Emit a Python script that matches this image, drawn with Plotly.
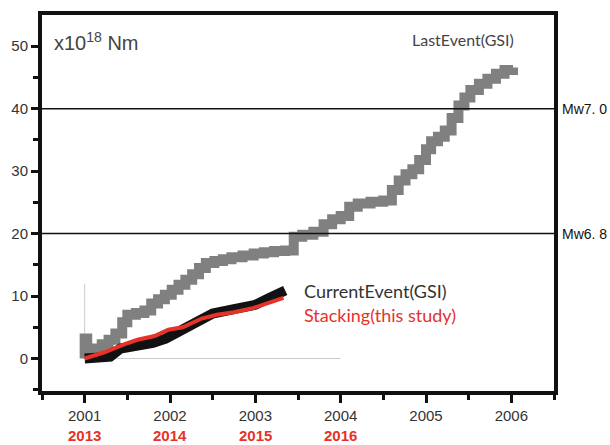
import plotly.graph_objects as go

# Cumulative moment release, x10^18 Nm
last_x = [2001.00, 2001.00, 2001.03, 2001.12, 2001.20, 2001.28, 2001.36, 2001.44,
          2001.50, 2001.60, 2001.70, 2001.78, 2001.86, 2001.94, 2002.02, 2002.10,
          2002.18, 2002.26, 2002.34, 2002.42, 2002.52, 2002.62, 2002.72, 2002.85,
          2002.98, 2003.10, 2003.22, 2003.35, 2003.45, 2003.55, 2003.68, 2003.80,
          2003.90, 2004.00, 2004.10, 2004.20, 2004.35, 2004.50, 2004.60, 2004.68,
          2004.76, 2004.84, 2004.92, 2005.00, 2005.06, 2005.14, 2005.22, 2005.30,
          2005.38, 2005.45, 2005.52, 2005.62, 2005.72, 2005.82, 2005.92, 2006.02]
last_y = [0.0, 3.2, 1.2, 1.6, 2.3, 3.0, 4.0, 5.8,
          7.0, 7.3, 7.7, 8.8, 9.5, 10.2, 11.0, 11.8,
          12.6, 13.5, 14.5, 15.3, 15.6, 15.9, 16.2, 16.5,
          16.8, 17.0, 17.2, 17.3, 19.5, 19.8, 20.3, 21.5,
          22.3, 22.8, 24.3, 24.8, 25.1, 25.3, 27.0, 28.5,
          29.5, 30.3, 31.8, 33.5, 34.8, 35.5, 36.5, 38.5,
          40.5, 41.8, 43.0, 44.0, 44.8, 45.6, 46.2, 46.6]

current_x = [2001.00, 2001.15, 2001.30, 2001.42, 2001.60, 2001.80, 2001.95, 2002.08,
             2002.20, 2002.35, 2002.50, 2002.75, 2003.00, 2003.15, 2003.35]
current_y = [0.0, 0.0, 0.3, 1.6, 2.0, 2.5, 3.2, 4.2,
             5.2, 6.5, 7.2, 7.9, 8.6, 9.6, 10.9]

stack_x = [2001.00, 2001.23, 2001.47, 2001.62, 2001.82, 2001.98, 2002.15, 2002.37,
           2002.55, 2002.75, 2002.98, 2003.13, 2003.33]
stack_y = [0.0, 1.0, 2.3, 3.0, 3.6, 4.6, 5.0, 6.4,
           7.0, 7.4, 8.1, 8.8, 9.7]

year_ticks = [2001, 2002, 2003, 2004, 2005, 2006]
year_labels = ["2001", "2002", "2003", "2004", "2005", "2006"]
recent_ticks = [2001, 2002, 2003, 2004]
recent_labels = ["2013", "2014", "2015", "2016"]

mw_levels = [40, 20]
mw_labels = ["Mw7. 0", "Mw6. 8"]

inset_x = [2001, 2004]
inset_y = [0, 12]

RED = "#e5332a"
TXT = "#333333"

fig = go.Figure()
fig.add_trace(go.Scatter(x=last_x, y=last_y, mode="lines",
                         line=dict(color="#808080", width=10, shape="hv"),
                         showlegend=False))
fig.add_trace(go.Scatter(x=current_x, y=current_y, mode="lines",
                         line=dict(color="#111111", width=10), showlegend=False))
fig.add_trace(go.Scatter(x=stack_x, y=stack_y, mode="lines",
                         line=dict(color=RED, width=4), showlegend=False))

shapes = [
    dict(type="line", xref="x", yref="y", x0=inset_x[0], x1=inset_x[0],
         y0=inset_y[0], y1=inset_y[1], line=dict(color="#cccccc", width=1), layer="below"),
    dict(type="line", xref="x", yref="y", x0=inset_x[0], x1=inset_x[1],
         y0=inset_y[0], y1=inset_y[0], line=dict(color="#cccccc", width=1), layer="below"),
]
for lv in mw_levels:
    shapes.append(dict(type="line", xref="paper", yref="y", x0=0, x1=1, y0=lv, y1=lv,
                       line=dict(color="#111111", width=1.5)))

annotations = []
for lv, lab in zip(mw_levels, mw_labels):
    annotations.append(dict(xref="paper", yref="y", x=1.012, y=lv, text=lab,
                            showarrow=False, xanchor="left", yanchor="middle",
                            font=dict(family="Liberation Sans", size=14, color="#111111")))
for xv, lab in zip(recent_ticks, recent_labels):
    annotations.append(dict(xref="x", yref="paper", x=xv, y=-0.118, text=f"<b>{lab}</b>",
                            showarrow=False, xanchor="center", yanchor="middle",
                            font=dict(family="Liberation Sans", size=15, color=RED)))
annotations += [
    dict(xref="paper", yref="paper", x=0.02, y=0.93, text="x10<sup>18</sup> Nm",
         showarrow=False, xanchor="left", yanchor="middle",
         font=dict(family="Liberation Sans", size=20, color="#444444")),
    dict(xref="x", yref="y", x=2006.05, y=51.0, text="LastEvent(GSI)",
         showarrow=False, xanchor="right", yanchor="middle",
         font=dict(family="Lato", size=16, color="#444444")),
    dict(xref="x", yref="y", x=2003.55, y=10.8, text="CurrentEvent(GSI)",
         showarrow=False, xanchor="left", yanchor="middle",
         font=dict(family="Lato", size=18, color="#333333")),
    dict(xref="x", yref="y", x=2003.55, y=7.0, text="Stacking(this study)",
         showarrow=False, xanchor="left", yanchor="middle",
         font=dict(family="Lato", size=18, color=RED)),
]

fig.update_layout(
    width=610, height=445,
    margin=dict(l=37, r=56, t=11, b=54),
    paper_bgcolor="white", plot_bgcolor="white",
    shapes=shapes, annotations=annotations,
    xaxis=dict(range=[2000.5, 2006.5], tickvals=year_ticks, ticktext=year_labels,
               ticks="outside", ticklen=8, tickwidth=3, tickcolor="#111111",
               showline=True, linewidth=4, linecolor="#111111", mirror=True,
               showgrid=False, zeroline=False,
               tickfont=dict(family="Liberation Sans", size=15, color=TXT),
               minor=dict(tickvals=[2000.5 + i for i in range(7)], ticks="outside",
                          ticklen=5, tickwidth=3, tickcolor="#111111", showgrid=False)),
    yaxis=dict(range=[-5.2, 55], tickvals=[0, 10, 20, 30, 40, 50],
               ticks="outside", ticklen=7, tickwidth=3, tickcolor="#111111",
               showline=True, linewidth=4, linecolor="#111111", mirror=True,
               showgrid=False, zeroline=False,
               tickfont=dict(family="Liberation Sans", size=15, color=TXT),
               minor=dict(tickvals=[-5, 5, 15, 25, 35, 45], ticks="outside",
                          ticklen=5, tickwidth=3, tickcolor="#111111", showgrid=False)),
)

fig.write_html("out.html")
